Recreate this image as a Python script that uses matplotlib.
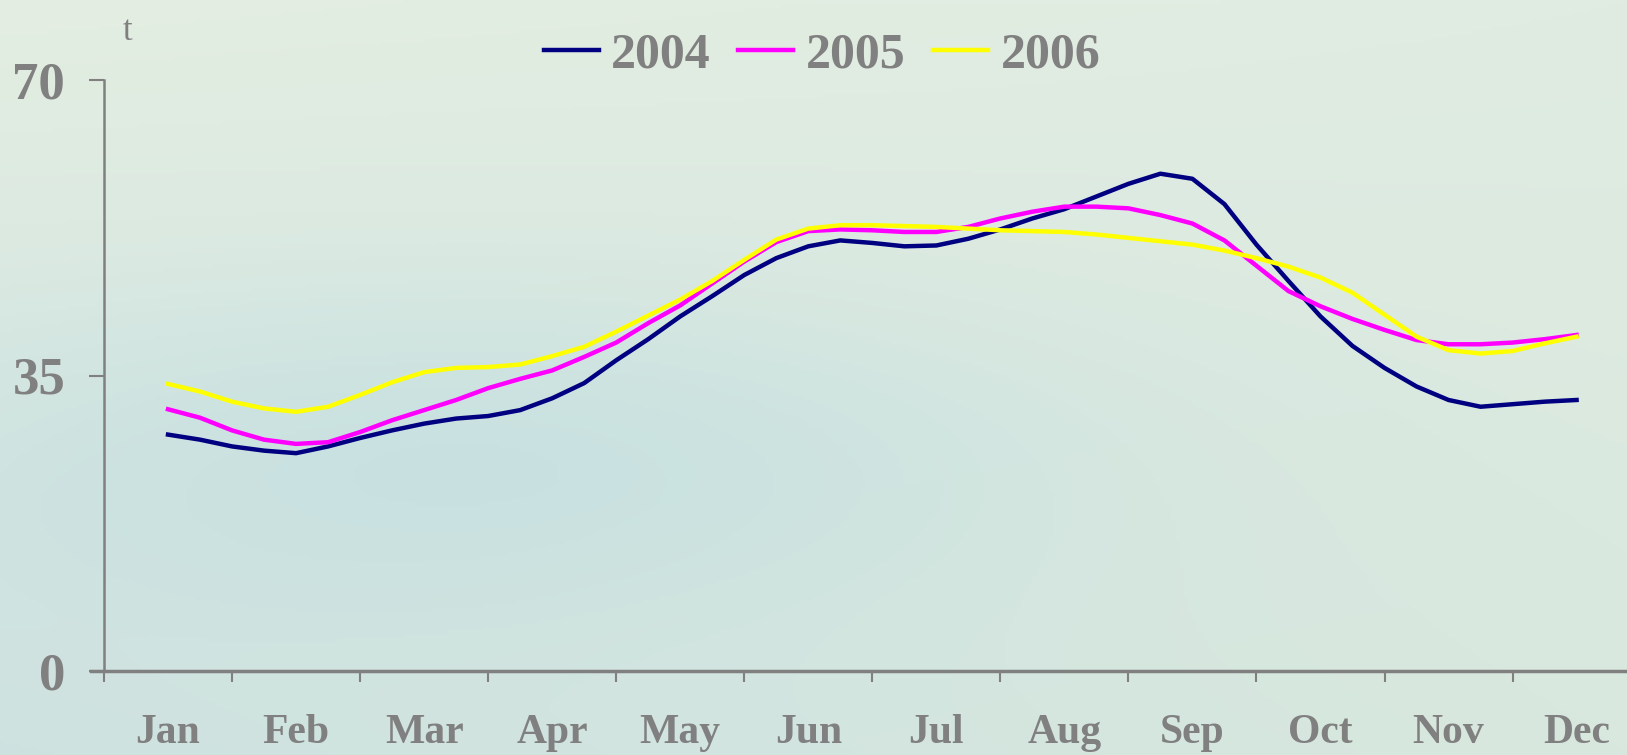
import numpy as np
import matplotlib
matplotlib.use("Agg")
import matplotlib.pyplot as plt

# months on the axis, one category each
months = ['Jan', 'Feb', 'Mar', 'Apr', 'May', 'Jun',
          'Jul', 'Aug', 'Sep', 'Oct', 'Nov', 'Dec']
years = ['2004', '2005', '2006']

# values read every quarter month, Jan .. Dec (45 points)
v2004 = [28.0, 27.4, 26.6, 26.1, 25.8, 26.6, 27.6, 28.5, 29.3, 29.9,
         30.2, 30.9, 32.3, 34.1, 36.8, 39.3, 42.0, 44.4, 46.9, 48.9,
         50.3, 51.0, 50.7, 50.3, 50.4, 51.2, 52.3, 53.6, 54.7, 56.2,
         57.7, 58.9, 58.3, 55.3, 50.5, 46.2, 42.0, 38.5, 35.9, 33.7,
         32.1, 31.3, 31.6, 31.9, 32.1]
v2005 = [31.0, 30.0, 28.5, 27.4, 26.9, 27.1, 28.3, 29.7, 30.9, 32.1,
         33.5, 34.6, 35.6, 37.2, 38.9, 41.2, 43.3, 45.9, 48.5, 50.8,
         52.1, 52.3, 52.2, 52.0, 52.0, 52.6, 53.6, 54.4, 55.0, 55.0,
         54.8, 54.0, 53.0, 51.0, 48.0, 45.0, 43.2, 41.7, 40.4, 39.2,
         38.7, 38.7, 38.9, 39.3, 39.8]
v2006 = [34.0, 33.1, 31.9, 31.1, 30.7, 31.3, 32.7, 34.2, 35.4, 35.9,
         36.0, 36.3, 37.3, 38.4, 40.2, 42.1, 44.0, 46.2, 48.7, 51.1,
         52.4, 52.8, 52.8, 52.7, 52.6, 52.4, 52.2, 52.1, 52.0, 51.7,
         51.3, 50.9, 50.5, 49.8, 48.9, 47.9, 46.6, 44.8, 42.2, 39.6,
         38.0, 37.6, 37.9, 38.8, 39.6]
yticks = [0, 35, 70]

colors = ['#000080', '#FF00FF', '#FFFF00']
gray = '#808080'
serif = ['Liberation Serif', 'DejaVu Serif']

W, H = 1627, 755
fig = plt.figure(figsize=(W / 100, H / 100), dpi=100)

# soft background wash
bg = fig.add_axes([0, 0, 1, 1], zorder=-10)
bg.axis('off')
gy, gx = np.mgrid[0:1:200j, 0:1:400j]
tl = np.array([228, 238, 226]) / 255
tr = np.array([224, 236, 226]) / 255
bl = np.array([206, 226, 224]) / 255
br = np.array([216, 232, 222]) / 255
img = ((1 - gx)[..., None] * ((1 - gy)[..., None] * tl + gy[..., None] * bl)
       + gx[..., None] * ((1 - gy)[..., None] * tr + gy[..., None] * br))
# bluish band around the middle-left
band = np.exp(-((gy - 0.6) / 0.22) ** 2) * np.exp(-((gx - 0.3) / 0.35) ** 2)
img = img - band[..., None] * np.array([0.06, 0.025, 0.0])
bg.imshow(np.clip(img, 0, 1), aspect='auto', extent=[0, 1, 0, 1])

step = 128.05
x0 = -0.1
left, bottom = (104 + x0 * step) / W, (H - 671) / H
width, height = (12 - x0) * step / W, 591 / H
ax = fig.add_axes([left, bottom, width, height])
ax.set_facecolor('none')

x = np.arange(len(v2004)) / 4 + 0.5
for vals, c, lab in zip([v2004, v2005, v2006], colors, years):
    ax.plot(x, vals, color=c, lw=3.2, label=lab, solid_joinstyle='round')

ax.set_xlim(x0, 12)
ax.set_ylim(0, 70)
ax.spines['top'].set_visible(False)
ax.spines['right'].set_visible(False)
ax.spines['left'].set_position(('data', 0))
ax.spines['left'].set_color(gray)
ax.spines['left'].set_linewidth(1.8)
ax.spines['bottom'].set_color(gray)
ax.spines['bottom'].set_linewidth(2.5)

ax.set_yticks(yticks)
ax.set_yticklabels([str(v) for v in yticks], fontsize=38, fontweight='bold',
                   color=gray, family=serif)
ax.tick_params(axis='y', length=11, width=1.5, color=gray, pad=17)

ax.set_xticks(range(13))
ax.set_xticklabels([])
ax.set_xticks(np.arange(12) + 0.5, minor=True)
ax.set_xticklabels(months, minor=True, fontsize=30, fontweight='bold',
                   color=gray, family=serif)
ax.tick_params(axis='x', which='major', length=8, width=1.5, color=gray)
ax.tick_params(axis='x', which='minor', length=0, pad=31)

fig.text(128 / W, 1 - 31 / H, 't', fontsize=25, color=gray, family=serif,
         ha='center', va='center')

ax.legend(loc='center', bbox_to_anchor=(822 / W, 1 - 55 / H),
          bbox_transform=fig.transFigure, ncol=3, frameon=False,
          prop={'family': serif, 'size': 36, 'weight': 'bold'},
          labelcolor=gray, handlelength=1.1, handletextpad=0.25,
          columnspacing=0.55)

fig.savefig('out.png', dpi=100)
